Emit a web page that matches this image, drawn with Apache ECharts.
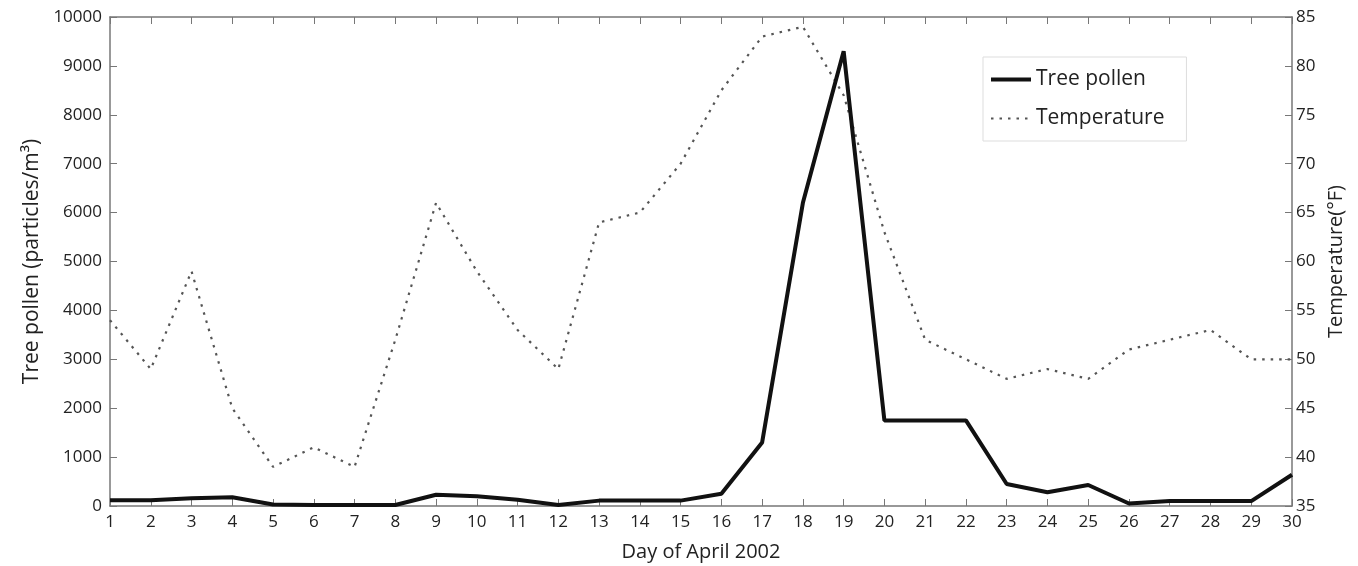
<!DOCTYPE html>
<html>
<head>
<meta charset="utf-8">
<title>Tree pollen and temperature, April 2002</title>
<script src="https://cdn.jsdelivr.net/npm/echarts@6/dist/echarts.min.js"></script>
<style>
  html, body { margin: 0; padding: 0; background: #fff; }
  #chart { width: 1358px; height: 566px; }
</style>
</head>
<body>
<div id="chart"></div>
<script>
// days of April 2002
var days = [];
for (var d = 1; d <= 30; d++) days.push(String(d));

// tree pollen (particles/m3)
var pollen = [120, 120, 160, 180, 30, 20, 20, 20, 230, 200,
              130, 20, 110, 110, 110, 250, 1300, 6200, 9300, 1750,
              1750, 1750, 450, 280, 430, 50, 100, 100, 100, 640];

// temperature (F)
var temperature = [54, 49, 59, 45, 39, 41, 39, 52, 66, 59,
                   53, 49, 64, 65, 70, 77.5, 83, 84, 77, 63,
                   52, 50, 48, 49, 48, 51, 52, 53, 50, 50];

var axisColor = "#777";
var textColor = "#222";
var fontFamily = "Open Sans";

var option = {
  backgroundColor: "#fff",
  textStyle: { fontFamily: fontFamily },
  animation: false,
  grid: { left: 110, right: 66, top: 17, bottom: 60, outerBoundsMode: "none" },
  legend: {
    left: 983,
    top: 57,
    orient: "vertical",
    itemWidth: 40,
    itemHeight: 14,
    itemGap: 18,
    padding: [12, 22, 12, 6],
    borderColor: "#ddd",
    borderWidth: 1,
    itemStyle: { color: "transparent", borderWidth: 0 },
    textStyle: { fontSize: 21, color: textColor, fontFamily: fontFamily },
    data: [
      { name: "Tree pollen", lineStyle: { width: 4, color: "#111" } },
      { name: "Temperature", lineStyle: { width: 2.2, color: "#555", type: [2.5, 6] } }
    ]
  },
  xAxis: [
    {
      type: "category",
      data: days,
      boundaryGap: false,
      name: "Day of April 2002",
      nameLocation: "middle",
      nameGap: 36,
      nameTextStyle: { fontSize: 20, color: textColor },
      axisLine: { lineStyle: { color: axisColor, width: 1.5 } },
      axisTick: { inside: true, length: 7, interval: 0, lineStyle: { color: axisColor } },
      axisLabel: { interval: 0, fontSize: 17, color: textColor, margin: 8 },
      splitLine: { show: false }
    },
    {
      type: "category",
      data: days,
      boundaryGap: false,
      position: "top",
      axisLine: { lineStyle: { color: axisColor, width: 1.5 } },
      axisTick: { inside: true, length: 7, interval: 0, lineStyle: { color: axisColor } },
      axisLabel: { show: false },
      splitLine: { show: false }
    }
  ],
  yAxis: [
    {
      type: "value",
      min: 0,
      max: 10000,
      interval: 1000,
      name: "Tree pollen (particles/m\u00b3)",
      nameLocation: "middle",
      nameGap: 60,
      nameRotate: 90,
      nameTextStyle: { fontSize: 21, color: textColor },
      axisLine: { show: true, lineStyle: { color: axisColor, width: 1.5 } },
      axisTick: { show: true, inside: true, length: 7, lineStyle: { color: axisColor } },
      axisLabel: { fontSize: 17, color: textColor, margin: 8, formatter: function (v) { return String(v); } },
      splitLine: { show: false }
    },
    {
      type: "value",
      min: 35,
      max: 85,
      interval: 5,
      position: "right",
      name: "Temperature(\u00b0F)",
      nameLocation: "middle",
      nameGap: 34,
      nameRotate: 90,
      nameTextStyle: { fontSize: 20, color: textColor },
      axisLine: { show: true, lineStyle: { color: axisColor, width: 1.5 } },
      axisTick: { show: true, inside: true, length: 7, lineStyle: { color: axisColor } },
      axisLabel: { fontSize: 17, color: textColor, margin: 4 },
      splitLine: { show: false }
    }
  ],
  series: [
    {
      name: "Tree pollen",
      type: "line",
      xAxisIndex: 0,
      yAxisIndex: 0,
      data: pollen,
      symbol: "none",
      z: 3,
      lineStyle: { color: "#111", width: 4 },
      itemStyle: { color: "#111" }
    },
    {
      name: "Temperature",
      type: "line",
      xAxisIndex: 0,
      yAxisIndex: 1,
      data: temperature,
      symbol: "none",
      z: 2,
      lineStyle: { color: "#555", width: 2.2, type: [2.5, 6] },
      itemStyle: { color: "#555" }
    }
  ]
};

var myChart = echarts.init(document.getElementById("chart"));
myChart.setOption(option);
</script>
</body>
</html>
